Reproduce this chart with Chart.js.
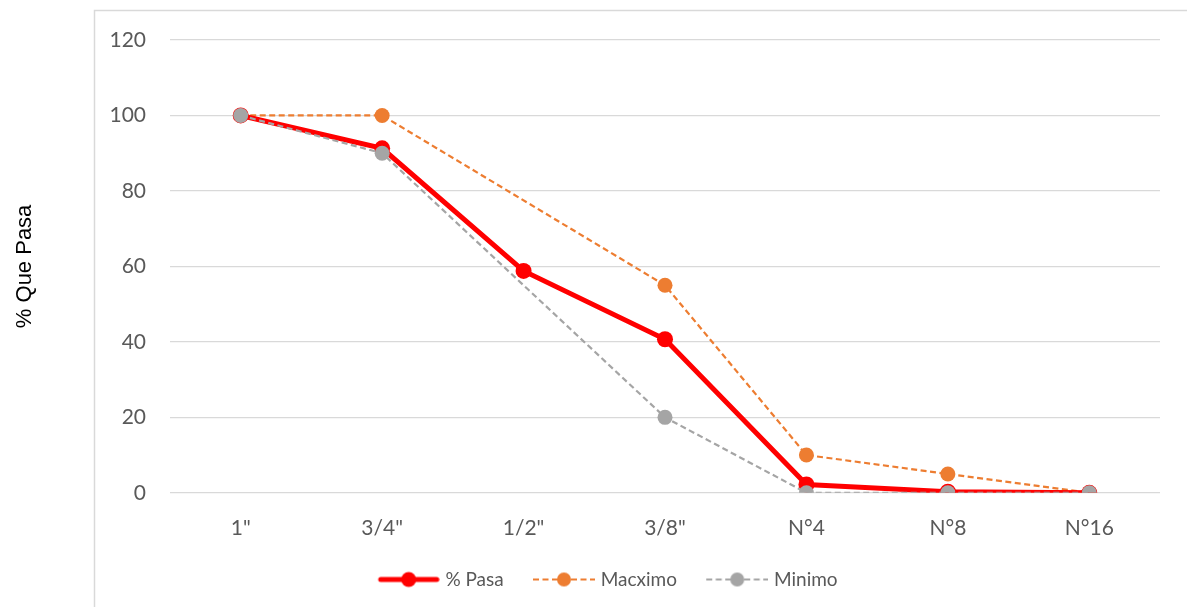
<!DOCTYPE html>
<html>
<head>
<meta charset="utf-8">
<script src="https://cdn.jsdelivr.net/npm/chart.js@4"></script>
<style>
  html, body { margin: 0; padding: 0; background: #ffffff; }
  #wrap { width: 1187px; height: 607px; position: relative; }
</style>
</head>
<body>
<div id="wrap"><canvas id="c" width="1187" height="607"></canvas></div>
<script>
const categories = ['1"', '3/4"', '1/2"', '3/8"', 'N°4', 'N°8', 'N°16'];
const pasa = [100, 91.3, 58.8, 40.7, 2.2, 0.3, 0];
const maximo = [100, 100, null, 55, 10, 5, 0];
const minimo = [100, 90, null, 20, 0, 0, 0];
const yTicks = [0, 20, 40, 60, 80, 100, 120];

const RED = '#FF0000', ORANGE = '#ED7D31', GRAY = '#A5A5A5';
const TXT = '#595959';
const FONT = 'Lato, "Open Sans", sans-serif';
const LEG_FS = 19;
const LEG_PAD = 6;
const LEG_S = 23;                       // offset of visible icon from item start
const LEG_W = LEG_S + 68 - LEG_FS / 2;  // box width reserved
const LEG_C = LEG_W + 8;                // canvas width

function legendIcon(color, width, dashed, radius) {
  const cv = document.createElement('canvas');
  cv.width = LEG_C; cv.height = 18;
  const ctx = cv.getContext('2d');
  const a = LEG_S + 4;
  ctx.strokeStyle = color;
  ctx.lineWidth = width;
  ctx.lineCap = dashed ? 'butt' : 'round';
  if (dashed) ctx.setLineDash([6, 3.5]);
  ctx.beginPath();
  ctx.moveTo(a + (dashed ? 0 : 3), 9);
  ctx.lineTo(a + (dashed ? 62 : 59), 9);
  ctx.stroke();
  ctx.setLineDash([]);
  ctx.fillStyle = color;
  ctx.beginPath();
  ctx.arc(a + 31, 9, radius, 0, Math.PI * 2);
  ctx.fill();
  return cv;
}
const icons = [legendIcon(RED, 5, false, 7.5), legendIcon(ORANGE, 2.2, true, 7), legendIcon(GRAY, 2.2, true, 7)];

const frame = {
  id: 'frame',
  beforeDraw(chart) {
    const ctx = chart.ctx;
    ctx.save();
    ctx.strokeStyle = '#D9D9D9';
    ctx.lineWidth = 1.5;
    ctx.beginPath();
    ctx.moveTo(94.5, 700);
    ctx.lineTo(94.5, 10.5);
    ctx.lineTo(1300, 10.5);
    ctx.stroke();
    ctx.restore();
  },
  afterLayout(chart) {
    if (chart.legend) { chart.legend.left += 16; chart.legend.right += 16; }
  }
};

new Chart(document.getElementById('c'), {
  type: 'line',
  data: {
    labels: categories,
    datasets: [
      {
        label: '% Pasa', data: pasa, borderColor: RED, backgroundColor: RED,
        borderWidth: 5, pointRadius: 8, pointBackgroundColor: RED, pointBorderWidth: 0,
        pointStyle: 'circle', order: 1, tension: 0
      },
      {
        label: 'Macximo', data: maximo, borderColor: ORANGE, backgroundColor: ORANGE,
        borderWidth: 2.2, borderDash: [6, 3.5], pointRadius: 7.5, pointBackgroundColor: ORANGE, pointBorderWidth: 0,
        spanGaps: true, order: 2, tension: 0
      },
      {
        label: 'Minimo', data: minimo, borderColor: GRAY, backgroundColor: GRAY,
        borderWidth: 2.2, borderDash: [6, 3.5], pointRadius: 7.5, pointBackgroundColor: GRAY, pointBorderWidth: 0,
        spanGaps: true, order: 0, tension: 0
      }
    ]
  },
  options: {
    responsive: false,
    animation: false,
    layout: { padding: { left: 0, right: 27, top: 40, bottom: 8 } },
    plugins: {
      tooltip: { enabled: false },
      legend: {
        position: 'bottom',
        labels: {
          usePointStyle: true,
          pointStyleWidth: LEG_W,
          boxHeight: 18,
          padding: LEG_PAD,
          color: TXT,
          font: { family: FONT, size: LEG_FS },
          sort: (a, b) => a.datasetIndex - b.datasetIndex,
          generateLabels(chart) {
            return chart.data.datasets.map((ds, i) => ({
              text: ds.label, pointStyle: icons[i], datasetIndex: i,
              fillStyle: ds.borderColor, strokeStyle: ds.borderColor, lineWidth: 0,
              fontColor: TXT, hidden: false
            }));
          }
        }
      }
    },
    scales: {
      x: {
        offset: true,
        grid: { display: false, drawTicks: false },
        border: { display: false },
        ticks: { color: TXT, font: { family: FONT, size: 21 }, padding: 23, maxRotation: 0 }
      },
      y: {
        min: 0, max: 120,
        afterBuildTicks(scale) { scale.ticks = yTicks.map(v => ({ value: v })); },
        afterFit(scale) { scale.width = 170; },
        grid: { color: '#D9D9D9', lineWidth: 1.3, drawTicks: false },
        border: { display: false },
        ticks: { color: TXT, font: { family: FONT, size: 21 }, padding: 24 },
        title: {
          display: true, text: '% Que Pasa', color: '#000000',
          font: { family: '"Liberation Sans", Arial, sans-serif', size: 22 },
          padding: { top: 12, bottom: 0 }
        }
      }
    }
  },
  plugins: [frame]
});
</script>
</body>
</html>
